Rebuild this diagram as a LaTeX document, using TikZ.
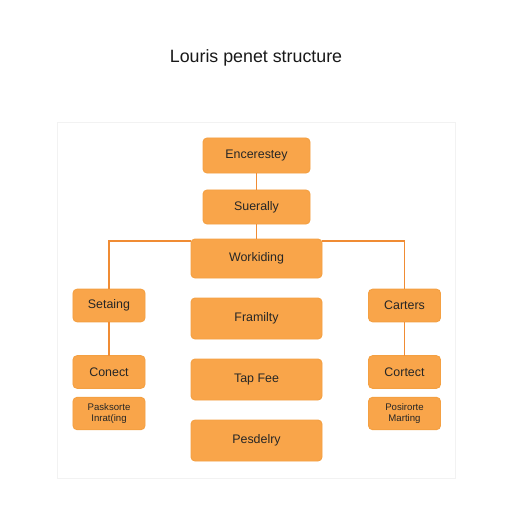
\documentclass[tikz,border=0pt]{standalone}
\usepackage{fontspec}
\setmainfont{Liberation Sans}
\usetikzlibrary{positioning}

\definecolor{boxfill}{HTML}{F9A54A}
\definecolor{boxline}{HTML}{F4A042}
\definecolor{linkcol}{HTML}{F08C34}
\definecolor{panelline}{HTML}{F2F2F2}

\tikzset{
	orgbox/.style={draw=boxline,fill=boxfill,rectangle,rounded corners=3.5pt,outer sep=0cm,text=black!85,font=\fontsize{10.6}{12}\selectfont,align=center},
	smallbox/.style={orgbox,minimum width=2.16cm,minimum height=0.97cm,font=\fontsize{8.2}{9.4}\selectfont},
	link/.style={draw=linkcol,line width=0.9pt}
}

\begin{document}
\begin{tikzpicture}[x=0.03cm,y=-0.03cm,thick]

	\useasboundingbox (0,0) rectangle (512,512);
	\fill[white] (0,0) rectangle (512,512);
	\draw[panelline,fill=white,line width=0.6pt] (57,122) rectangle (455,478);

	\node[font=\fontsize{15.2}{18}\selectfont,text=black!90] (title) at (256,58) {Louris penet structure};

	% centre column
	\begin{scope}[every node/.style={orgbox}]
		\node[minimum width=3.21cm,minimum height=1.05cm] (encerestey) at (256.5,155.5) {Encerestey};
		\node[minimum width=3.21cm,minimum height=1.02cm] (suerally) at (256.5,207) {Suerally};
		\node[minimum width=3.93cm,minimum height=1.17cm] (workiding) at (256.5,258.5) {Workiding};
		\node[minimum width=3.93cm,minimum height=1.23cm] (framilty) at (256.5,318.5) {Framilty};
		\node[minimum width=3.93cm,minimum height=1.23cm,below=0.6cm of framilty] (tapfee) {Tap Fee};
		\node[minimum width=3.93cm,minimum height=1.23cm,below=0.6cm of tapfee] (pesdelry) {Pesdelry};
	\end{scope}

	% side columns
	\begin{scope}[every node/.style={orgbox,minimum width=2.16cm,minimum height=0.98cm}]
		\node (setaing) at (109,305.5) {Setaing};
		\node (conectl) at (109,372) {Conect};
		\node (carters) at (404.5,305.5) {Carters};
		\node (cortectr) at (404.5,372) {Cortect};
	\end{scope}
	\node[smallbox,below=0.27cm of conectl] (paskl) {Pasksorte\\Inrat(ing};
	\node[smallbox,below=0.27cm of cortectr] (posr) {Posirorte\\Marting};

	% connectors
	\draw[link] (encerestey) -- (suerally);
	\draw[link] (suerally) -- (workiding);
	\draw[link] ([yshift=-0.06cm]workiding.north west) -| (setaing);
	\draw[link] ([yshift=-0.06cm]workiding.north east) -| (carters);
	\draw[link] (setaing) -- (conectl);
	\draw[link] (carters) -- (cortectr);

\end{tikzpicture}
\end{document}
